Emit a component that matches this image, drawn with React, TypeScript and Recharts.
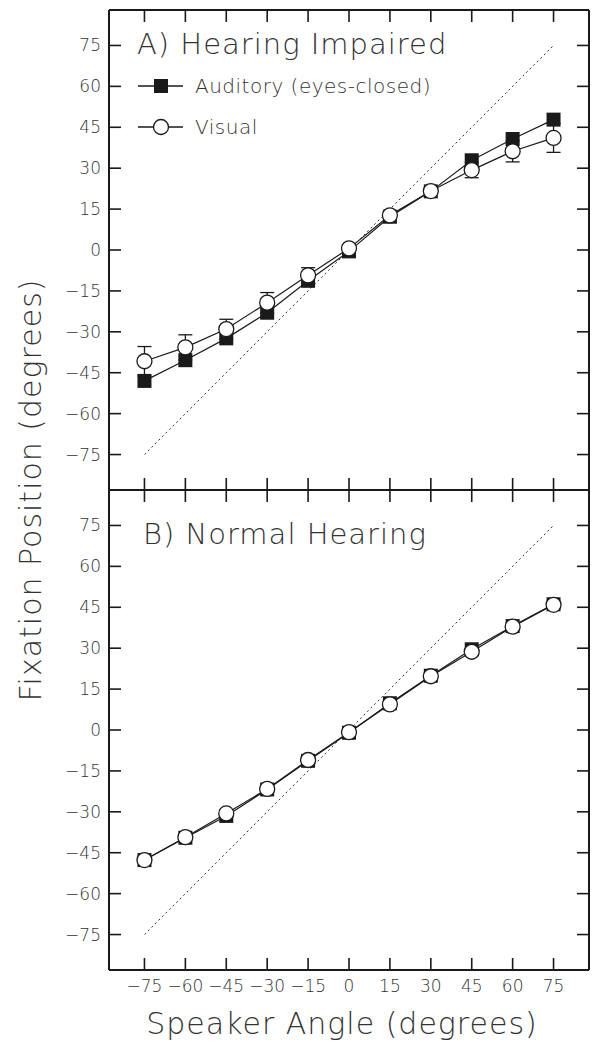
import React from 'react';
import {
  LineChart, Line, XAxis, YAxis, ErrorBar, ReferenceLine, Legend, Customized,
} from 'recharts';

// speaker angles and axis ticks (degrees)
const ANGLES = [-75, -60, -45, -30, -15, 0, 15, 30, 45, 60, 75];
const TICKS = [-75, -60, -45, -30, -15, 0, 15, 30, 45, 60, 75];
const IDENTITY = [-75, 75];
const DOMAIN = [-88, 88];

// A) hearing impaired
const HI_AUDITORY = [-48, -40.4, -32.4, -23, -11.3, -0.5, 12.2, 21.5, 32.9, 40.7, 47.8];
const HI_VISUAL = [-40.8, -35.7, -29, -19.3, -9.3, 0.6, 12.7, 21.6, 29.3, 36.2, 41.1];
const HI_VISUAL_ERR = [5.4, 4.6, 3.6, 3.7, 2.8, 1, 1, 1, 2.8, 3.9, 5.3];

// B) normal hearing
const NH_AUDITORY = [-47.7, -39.5, -31.5, -21.8, -11.3, -1, 9.8, 19.9, 29.6, 38.1, 46.1];
const NH_VISUAL = [-47.7, -39.3, -30.6, -21.6, -11.0, -0.8, 9.4, 19.7, 28.7, 37.9, 45.9];

const FONT = '"DejaVu Sans", "Open Sans", sans-serif';
const WEIGHT = 200;
const INK = '#1a1a1a';
const TEXT = '#333';
const TICK_LEN = 12;

const fmt = (v: number) => (v < 0 ? `\u2212${Math.abs(v)}` : `${v}`);

const hiData = ANGLES.map((a, i) => ({
  angle: a, aud: HI_AUDITORY[i], vis: HI_VISUAL[i], visErr: HI_VISUAL_ERR[i],
}));
const nhData = ANGLES.map((a, i) => ({ angle: a, aud: NH_AUDITORY[i], vis: NH_VISUAL[i] }));

function LeftTick({ x, y, payload }: any) {
  return (
    <g>
      <line x1={x} x2={x + TICK_LEN} y1={y} y2={y} stroke={INK} strokeWidth={1.6} />
      <text x={x - 8} y={y} textAnchor="end" dominantBaseline="central"
        fontSize={17} fill={TEXT} fontFamily={FONT} fontWeight={WEIGHT}>{fmt(payload.value)}</text>
    </g>
  );
}

function RightTick({ x, y }: any) {
  return <line x1={x - TICK_LEN} x2={x} y1={y} y2={y} stroke={INK} strokeWidth={1.6} />;
}

function TopTick({ x, y }: any) {
  return <line x1={x} x2={x} y1={y} y2={y + TICK_LEN} stroke={INK} strokeWidth={1.6} />;
}

const makeBottomTick = (showLabel: boolean) => ({ x, y, payload }: any) => (
  <g>
    <line x1={x} x2={x} y1={y - TICK_LEN} y2={y} stroke={INK} strokeWidth={1.6} />
    {showLabel && (
      <text x={x} y={y + 16} textAnchor="middle" dominantBaseline="central"
        fontSize={17} fill={TEXT} fontFamily={FONT} fontWeight={WEIGHT}>{fmt(payload.value)}</text>
    )}
  </g>
);

const SquareDot = (p: any) => (
  <rect key={`sq-${p.index}`} x={p.cx - 7} y={p.cy - 7} width={14} height={14} fill={INK} />
);
const CircleDot = (p: any) => (
  <circle key={`ci-${p.index}`} cx={p.cx} cy={p.cy} r={7.5} fill="#fff" stroke={INK} strokeWidth={1.3} />
);

function LegendBox() {
  return (
    <svg width={340} height={80} style={{ display: 'block' }}>
      <line x1={8} x2={53} y1={20} y2={20} stroke={INK} strokeWidth={1.3} />
      <rect x={24} y={13} width={14} height={14} fill={INK} />
      <text x={65} y={20} dominantBaseline="central" fontSize={20} letterSpacing={0.5} fill={TEXT}
        fontFamily={FONT} fontWeight={WEIGHT}>Auditory (eyes-closed)</text>
      <line x1={8} x2={53} y1={61} y2={61} stroke={INK} strokeWidth={1.3} />
      <circle cx={31} cy={61} r={7.5} fill="#fff" stroke={INK} strokeWidth={1.3} />
      <text x={65} y={61} dominantBaseline="central" fontSize={20} letterSpacing={0.5} fill={TEXT}
        fontFamily={FONT} fontWeight={WEIGHT}>Visual</text>
    </svg>
  );
}

function Panel({ data, title, titleY, showErr, showLegend, showXLabels, height, margin, xHeight }: any) {
  return (
    <LineChart width={604} height={height} data={data} margin={margin}>
      <XAxis xAxisId="bottom" dataKey="angle" type="number" domain={DOMAIN} ticks={TICKS}
        interval={0} orientation="bottom" height={xHeight} allowDataOverflow
        axisLine={{ stroke: INK, strokeWidth: 2 }} tickLine={false} tickSize={0} tickMargin={0}
        tick={makeBottomTick(showXLabels)} />
      <XAxis xAxisId="top" dataKey="angle" type="number" domain={DOMAIN} ticks={TICKS}
        interval={0} orientation="top" height={1} allowDataOverflow
        axisLine={{ stroke: INK, strokeWidth: 2 }} tickLine={false} tickSize={0} tickMargin={0}
        tick={TopTick} />
      <YAxis yAxisId="left" type="number" domain={DOMAIN} ticks={TICKS} interval={0}
        orientation="left" width={109} allowDataOverflow
        axisLine={{ stroke: INK, strokeWidth: 2 }} tickLine={false} tickSize={0} tickMargin={0}
        tick={LeftTick} />
      <YAxis yAxisId="right" type="number" domain={DOMAIN} ticks={TICKS} interval={0}
        orientation="right" width={1} allowDataOverflow
        axisLine={{ stroke: INK, strokeWidth: 2 }} tickLine={false} tickSize={0} tickMargin={0}
        tick={RightTick} />
      <ReferenceLine xAxisId="bottom" yAxisId="left"
        segment={[{ x: IDENTITY[0], y: IDENTITY[0] }, { x: IDENTITY[1], y: IDENTITY[1] }]}
        stroke="#333" strokeWidth={1} strokeDasharray="2 3" />
      <Line xAxisId="bottom" yAxisId="left" dataKey="aud" stroke={INK} strokeWidth={1.2}
        dot={SquareDot} activeDot={false} isAnimationActive={false} />
      <Line xAxisId="bottom" yAxisId="left" dataKey="vis" stroke={INK} strokeWidth={1.2}
        dot={CircleDot} activeDot={false} isAnimationActive={false}>
        {showErr && <ErrorBar dataKey="visErr" direction="y" width={7} stroke={INK} strokeWidth={1.3} />}
      </Line>
      {showLegend && (
        <Legend layout="horizontal" verticalAlign="middle" align="center"
          wrapperStyle={{ left: 130, top: 66, width: 340, height: 80 }}
          content={() => <LegendBox />} />
      )}
      <Customized component={() => (
        <text x={title.x} y={titleY} fontSize={29} letterSpacing={1} fill={TEXT}
          fontFamily={FONT} fontWeight={WEIGHT}>
          {title.text}
        </text>
      )} />
    </LineChart>
  );
}

export default function App() {
  return (
    <div style={{ position: 'absolute', left: 0, top: 0, width: 604, height: 1049, background: '#fff' }}>
      <div style={{ position: 'absolute', left: 0, top: 0 }}>
        <Panel data={hiData} title={{ x: 137, text: 'A) Hearing Impaired' }} titleY={54}
          showErr showLegend showXLabels={false} height={492}
          margin={{ top: 9, right: 14, bottom: 1, left: 0 }} xHeight={1} />
      </div>
      <div style={{ position: 'absolute', left: 0, top: 488 }}>
        <Panel data={nhData} title={{ x: 143, text: 'B) Normal Hearing' }} titleY={56}
          showErr={false} showLegend={false} showXLabels height={561}
          margin={{ top: 1, right: 14, bottom: 0, left: 0 }} xHeight={79} />
      </div>
      <div style={{
        position: 'absolute', left: 342, top: 1023, transform: 'translate(-50%, -50%)',
        whiteSpace: 'nowrap', fontFamily: FONT, fontWeight: WEIGHT, fontSize: 30,
        letterSpacing: 1, color: TEXT,
      }}>Speaker Angle (degrees)</div>
      <div style={{
        position: 'absolute', left: 30, top: 490, transform: 'translate(-50%, -50%) rotate(-90deg)',
        whiteSpace: 'nowrap', fontFamily: FONT, fontWeight: WEIGHT, fontSize: 30,
        letterSpacing: 1, color: TEXT,
      }}>Fixation Position (degrees)</div>
    </div>
  );
}
